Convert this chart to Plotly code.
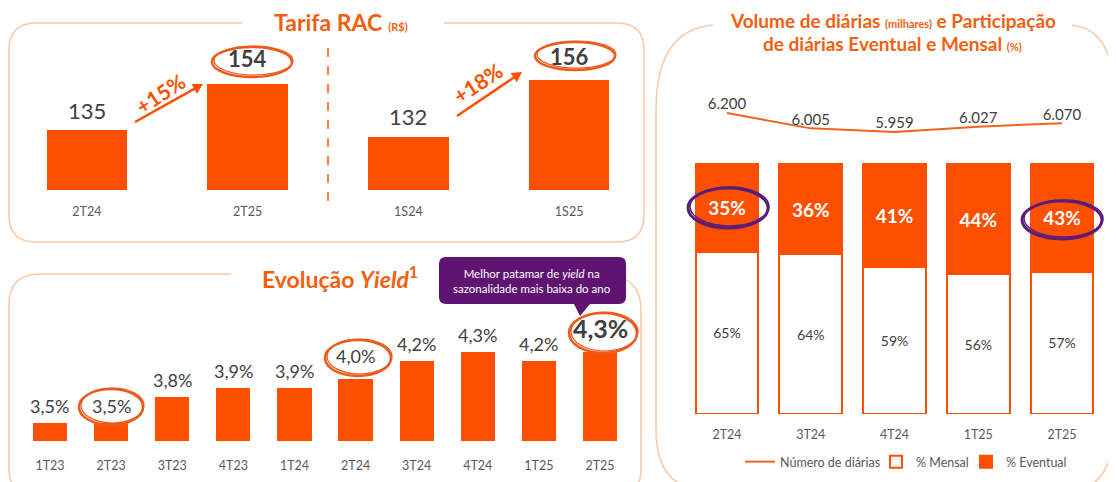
import math
import plotly.graph_objects as go

# page offset (browser body margin) compensation
OFF = 8
W, H = 1116 - OFF, 482 - OFF

# ---------------- data ----------------
tarifa_cats = ["2T24", "2T25", "1S24", "1S25"]
tarifa_vals = [135, 154, 132, 156]
tarifa_highlight = [False, True, False, True]
tarifa_growth = ["+15%", "+18%"]

yield_cats = ["1T23", "2T23", "3T23", "4T23", "1T24", "2T24", "3T24", "4T24", "1T25", "2T25"]
yield_vals = [3.5, 3.5, 3.8, 3.9, 3.9, 4.0, 4.2, 4.3, 4.2, 4.3]

vol_cats = ["2T24", "3T24", "4T24", "1T25", "2T25"]
vol_diarias = [6200, 6005, 5959, 6027, 6070]
pct_mensal = [65, 64, 59, 56, 57]
pct_eventual = [35, 36, 41, 44, 43]

# ---------------- style ----------------
ORANGE = "#FC5000"
TITLE_OR = "#F2600F"
BORDER = "#FBC8A6"
PURPLE = "#5E1470"
TXT = "#404040"
TICK = "#595959"
FONT = "Lato"
tarifa_label_shift = [4, 10, 5, 8]
yield_label_shift = [4, 4, 4, 4, 4, 10, 4, 4, 4, 7]
yield_label_size = [18, 18, 18, 18, 18, 18, 18, 18, 18, 25]


def X(x):
    return (x - OFF) / W


def Y(y):
    return 1 - (y - OFF) / H


def P(x, y):
    return f"{X(x):.5f},{Y(y):.5f}"


def rounded_path(pts):
    s = []
    for cmd, *c in pts:
        if cmd == "Q":
            s.append(f"Q {P(c[0], c[1])} {P(c[2], c[3])}")
        elif cmd == "Z":
            s.append("Z")
        else:
            s.append(f"{cmd} {P(c[0], c[1])}")
    return " ".join(s)


fig = go.Figure()
annotations = []

# ---- Tarifa RAC ----
fig.add_trace(go.Bar(
    x=tarifa_cats, y=tarifa_vals, marker=dict(color=ORANGE, line=dict(width=0)), width=0.5,
    showlegend=False, xaxis="x", yaxis="y", hoverinfo="skip"))
for c, v, hl, sh in zip(tarifa_cats, tarifa_vals, tarifa_highlight, tarifa_label_shift):
    annotations.append(dict(xref="x", yref="y", x=c, y=v, yanchor="bottom", xanchor="center",
                            yshift=sh, showarrow=False, text=f"<b>{v}</b>" if hl else f"{v}",
                            font=dict(size=22, color=TXT, family=FONT)))

# ---- Yield ----
fig.add_trace(go.Bar(
    x=yield_cats, y=yield_vals, marker=dict(color=ORANGE, line=dict(width=0)), width=0.56,
    showlegend=False, xaxis="x2", yaxis="y2", hoverinfo="skip"))
for i, (c, v) in enumerate(zip(yield_cats, yield_vals)):
    t = f"{v:.1f}%".replace(".", ",")
    if i == len(yield_vals) - 1:
        t = f"<b>{t}</b>"
    annotations.append(dict(xref="x2", yref="y2", x=c, y=v, yanchor="bottom", xanchor="center",
                            yshift=yield_label_shift[i], showarrow=False, text=t,
                            font=dict(size=yield_label_size[i], color=TXT, family=FONT)))

# ---- Volume de diárias ----
vol_text = [f"{v:,}".replace(",", ".") for v in vol_diarias]
fig.add_trace(go.Scatter(
    x=vol_cats, y=vol_diarias, mode="lines+text", text=vol_text, textposition="top center",
    textfont=dict(size=15, color=TXT, family=FONT), line=dict(color="#F0641E", width=2),
    name="Número de diárias", xaxis="x3", yaxis="y4", cliponaxis=False, hoverinfo="skip",
    legend="legend"))
fig.add_trace(go.Bar(
    x=vol_cats, y=pct_mensal, text=[f"{v}%" for v in pct_mensal], textposition="inside",
    insidetextanchor="middle", textangle=0, constraintext="none",
    textfont=dict(size=14, color=TXT, family=FONT),
    marker=dict(color="white", line=dict(color=ORANGE, width=2)), width=0.75,
    name="% Mensal", xaxis="x3", yaxis="y3", hoverinfo="skip", legend="legend2"))
fig.add_trace(go.Bar(
    x=vol_cats, y=pct_eventual, text=[f"<b>{v}%</b>" for v in pct_eventual], textposition="inside",
    insidetextanchor="middle", textangle=0, constraintext="none",
    textfont=dict(size=19, color="white", family=FONT),
    marker=dict(color=ORANGE, line=dict(color=ORANGE, width=2)), width=0.75,
    name="% Eventual", xaxis="x3", yaxis="y3", hoverinfo="skip", legend="legend3"))

tick_common = dict(showgrid=False, zeroline=False, showline=False, ticks="outside",
                   tickcolor="rgba(0,0,0,0)", tickfont=dict(size=12.5, color=TICK, family=FONT),
                   type="category", fixedrange=True)

shapes = []
# panel borders
shapes.append(dict(type="path", xref="paper", yref="paper", line=dict(color=BORDER, width=1.5),
                   path=rounded_path([("M", 242, 23), ("L", 36, 23), ("Q", 9, 23, 9, 50), ("L", 9, 215),
                                      ("Q", 9, 242, 36, 242), ("L", 617, 242), ("Q", 644, 242, 644, 215),
                                      ("L", 644, 50), ("Q", 644, 23, 617, 23), ("L", 444, 23)])))
shapes.append(dict(type="path", xref="paper", yref="paper", line=dict(color=BORDER, width=1.5),
                   path=rounded_path([("M", 231, 274), ("L", 40, 274), ("Q", 9, 274, 9, 305),
                                      ("L", 9, 470), ("Q", 9, 492, 30, 495)])))
shapes.append(dict(type="path", xref="paper", yref="paper", line=dict(color=BORDER, width=1.5),
                   path=rounded_path([("M", 600, 274), ("Q", 641, 274, 641, 310), ("L", 641, 470),
                                      ("Q", 641, 492, 620, 495)])))
shapes.append(dict(type="path", xref="paper", yref="paper", line=dict(color=BORDER, width=1.5),
                   path=rounded_path([("M", 713, 25), ("Q", 656, 30, 656, 110), ("L", 656, 430),
                                      ("Q", 656, 485, 700, 490)])))
shapes.append(dict(type="path", xref="paper", yref="paper", line=dict(color=BORDER, width=1.5),
                   path=rounded_path([("M", 1072, 25), ("Q", 1113, 30, 1113, 90), ("L", 1113, 430),
                                      ("Q", 1113, 480, 1080, 490)])))
# dashed divider between quarter and semester
shapes.append(dict(type="line", xref="x", yref="paper", x0=1.5, x1=1.5, y0=Y(48), y1=Y(206),
                   line=dict(color=ORANGE, width=1.5, dash="dash")))
# callout box
shapes.append(dict(type="path", xref="paper", yref="paper", fillcolor=PURPLE, line=dict(width=0),
                   path=rounded_path([("M", 446, 257), ("L", 619, 257), ("Q", 626, 257, 626, 264),
                                      ("L", 626, 297), ("Q", 626, 304, 619, 304), ("L", 590, 304),
                                      ("L", 580, 316), ("L", 574, 304),
                                      ("L", 446, 304), ("Q", 439, 304, 439, 297), ("L", 439, 264),
                                      ("Q", 439, 257, 446, 257), ("Z",)])))


def ellipse(cx, cy, w, h, color, width):
    out = []
    out.append(dict(type="circle", xref="paper", yref="paper", x0=X(cx - w / 2), x1=X(cx + w / 2),
                    y0=Y(cy + h / 2), y1=Y(cy - h / 2), line=dict(color=color, width=width)))
    out.append(dict(type="circle", xref="paper", yref="paper", x0=X(cx - w / 2 + 2), x1=X(cx + w / 2 + 1),
                    y0=Y(cy + h / 2 - 2), y1=Y(cy - h / 2 - 1), line=dict(color=color, width=width * 0.5)))
    return out


OR_C = "#EE5A1C"
shapes += ellipse(252, 62, 80, 30, OR_C, 2.5)
shapes += ellipse(575, 56, 80, 28, OR_C, 2.5)
shapes += ellipse(111, 407, 64, 36, OR_C, 2.5)
shapes += ellipse(358, 358, 66, 36, OR_C, 2.5)
shapes += ellipse(603, 333, 68, 40, OR_C, 2.5)
shapes += ellipse(728, 208, 80, 40, "#5B1D7A", 3)
shapes += ellipse(1062, 220, 80, 38, "#5B1D7A", 3)


def arrow(tx, ty, hx, hy, color, width=2.5, hl=10, hw=5.5):
    dx, dy = hx - tx, hy - ty
    n = math.hypot(dx, dy)
    ux, uy = dx / n, dy / n
    bx, by = hx - ux * hl, hy - uy * hl
    px_, py_ = -uy * hw, ux * hw
    return [
        dict(type="line", xref="paper", yref="paper", x0=X(tx), y0=Y(ty), x1=X(bx + ux), y1=Y(by + uy),
             line=dict(color=color, width=width)),
        dict(type="path", xref="paper", yref="paper", fillcolor=color, line=dict(width=0),
             path=f"M {P(hx, hy)} L {P(bx + px_, by + py_)} L {P(bx - px_, by - py_)} Z"),
    ]


def title(x, y, text, size):
    return dict(xref="paper", yref="paper", x=X(x), y=Y(y), xanchor="center", yanchor="middle",
                showarrow=False, text=text, font=dict(size=size, color=TITLE_OR, family=FONT))


annotations.append(title(341, 22, "<b>Tarifa RAC</b> <span style='font-size:11px'><b>(R$)</b></span>", 23))
annotations.append(title(340, 277, "<b>Evolução <i>Yield</i><sup>1</sup></b>", 23))
annotations.append(title(893, 20, "<b>Volume de diárias <span style='font-size:11px'>(milhares)</span> e Participação</b>", 19))
annotations.append(title(892, 44, "<b>de diárias Eventual e Mensal <span style='font-size:11px'>(%)</span></b>", 19))
# callout text
annotations.append(dict(xref="paper", yref="paper", x=X(532), y=Y(281), xanchor="center", yanchor="middle",
                        showarrow=False,
                        text="Melhor patamar de <i>yield</i> na<br>sazonalidade mais baixa do ano",
                        font=dict(size=11.5, color="white", family=FONT), align="center"))
# growth arrows
for (hx, hy, tx, ty, lx, ly), g in zip([(203, 84, 135, 122, 160, 93), (522, 72, 457, 116, 478, 83)],
                                       tarifa_growth):
    shapes += arrow(tx, ty, hx, hy, ORANGE)
    annotations.append(dict(xref="paper", yref="paper", x=X(lx), y=Y(ly), xanchor="center", yanchor="middle",
                            showarrow=False, text=f"<b>{g}</b>",
                            textangle=-33, font=dict(size=21, color=ORANGE, family=FONT)))

leg_common = dict(orientation="h", xanchor="left", yanchor="middle",
                  font=dict(size=12.5, color=TICK, family=FONT), bgcolor="rgba(0,0,0,0)", itemwidth=30)

# tarifa axis: category pitch 160.75 px, domain starts at page px 8 instead of 6.5
tar_left = -0.5 + (OFF - 6.5) / 160.75

fig.update_layout(
    width=W, height=H, margin=dict(l=0, r=0, t=0, b=0),
    paper_bgcolor="white", plot_bgcolor="rgba(0,0,0,0)",
    font=dict(family=FONT, color=TXT),
    barmode="stack",
    xaxis=dict(domain=[0, X(649.5)], range=[tar_left, 3.5], anchor="y", ticklen=10, **tick_common),
    yaxis=dict(domain=[Y(190), Y(40)], range=[110, 172.5], visible=False, fixedrange=True),
    xaxis2=dict(domain=[X(19.4), X(630.6)], anchor="y2", ticklen=13, **tick_common),
    yaxis2=dict(domain=[Y(441), Y(300)], range=[3.3, 3.3 + 141 / 88.75], visible=False, fixedrange=True),
    xaxis3=dict(domain=[X(685.1), X(1103.9)], anchor="y3", ticklen=9, **tick_common),
    yaxis3=dict(domain=[Y(414), Y(90)], range=[0, 129.6], visible=False, fixedrange=True),
    yaxis4=dict(overlaying="y3", anchor="x3", range=[2380, 6492], visible=False, fixedrange=True),
    legend=dict(x=X(740), y=Y(462), **leg_common),
    legend2=dict(x=X(876), y=Y(462), **leg_common),
    legend3=dict(x=X(966), y=Y(462), **leg_common),
    shapes=shapes, annotations=annotations,
)

fig.write_html("out.html")
